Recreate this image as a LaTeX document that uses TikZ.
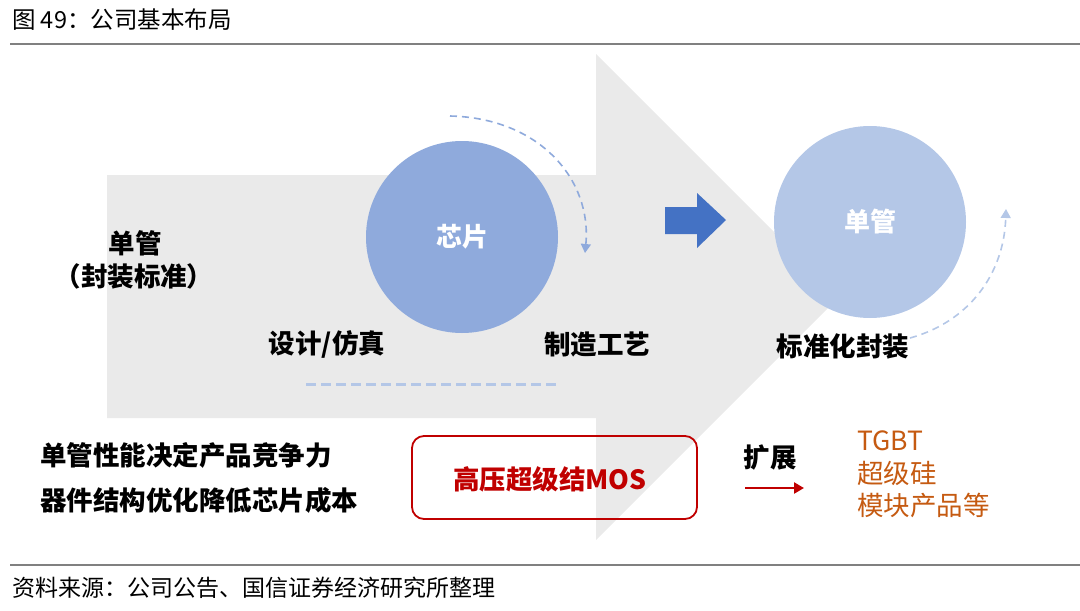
\documentclass[tikz,border=0pt]{standalone}
\usepackage{fontspec}
\setmainfont{Noto Sans CJK SC}
\usetikzlibrary{arrows.meta}
\definecolor{bggray}{HTML}{EAEAEA}
\definecolor{chipblue}{HTML}{8FAADC}
\definecolor{paleblue}{HTML}{B4C7E7}
\definecolor{deepblue}{HTML}{4472C4}
\definecolor{darkred}{HTML}{C00000}
\definecolor{rust}{HTML}{C55A11}
\definecolor{rulegray}{HTML}{808080}
\begin{document}
\begin{tikzpicture}[x=1pt,y=-1pt,
  every node/.style={inner sep=0pt},
  big/.style={font=\fontsize{26.5}{30}\selectfont\bfseries},
  plain/.style={font=\fontsize{23.5}{28}\selectfont},
  ring/.style={circle,minimum size=192pt,text=white,font=\fontsize{26}{30}\selectfont\bfseries},
  flowdash/.style={dashed,dash pattern=on 7pt off 5pt,line width=1.6pt,-{Triangle[length=9pt,width=10pt]}}]
\useasboundingbox (0,0) rectangle (1080,611);
% heading and footer
\node[plain,anchor=west] (title) at (12,20) {图 49：公司基本布局};
\draw[rulegray,line width=1.5pt] (10,44) -- (1080,44);
\draw[rulegray,line width=1.5pt] (10,565) -- (1080,565);
\node[plain,anchor=west,font=\fontsize{23}{28}\selectfont] (source) at (12,588) {资料来源：公司公告、国信证券经济研究所整理};
% big gray arrow
\fill[bggray] (107,175) -- (596,175) -- (596,54) -- (839,297) -- (596,540) -- (596,418) -- (107,418) -- cycle;
% circles
\node[ring,fill=chipblue] (chip) at (462,237) {芯片};
\node[ring,fill=paleblue] (single) at (870,222) {单管};
% blue block arrow
\fill[deepblue] (665,207) -- (697,207) -- (697,193) -- (726,220) -- (697,248) -- (697,234) -- (665,234) -- cycle;
% dashed curves
\coordinate (c1s) at (450,116);
\coordinate (c1e) at (585,253);
\draw[flowdash,chipblue] (c1s) .. controls (540,118) and (592,180) .. (c1e);
\coordinate (c2s) at (910,338);
\coordinate (c2e) at (1006,209);
\draw[flowdash,paleblue] (c2s) .. controls (968,322) and (1004,275) .. (c2e);
\coordinate (hl) at (306,384);
\coordinate (hr) at (560,384);
\draw[paleblue,line width=3pt,dash pattern=on 10pt off 5pt] (hl) -- (hr);
% labels on the arrow
\node[big] (pkg) at (135,243) {单管};
\node[big] (std) at (134,276) {（封装标准）};
\node[big] (design) at (327,344) {设计/仿真};
\node[big] (fab) at (597,344) {制造工艺};
\node[big] (assy) at (843,346) {标准化封装};
% bottom row
\node[big,anchor=west] (perf) at (40,455) {单管性能决定产品竞争力};
\node[big,anchor=west] (cost) at (40,500) {器件结构优化降低芯片成本};
\draw[darkred,line width=1.8pt,rounded corners=12pt] (412,436) rectangle (697,519);
\node[big,text=darkred] (mos) at (550,479) {高压超级结MOS};
\node[big] (ext) at (770,458) {扩展};
\coordinate (ea) at (745,488);
\coordinate (eb) at (804,488);
\draw[darkred,line width=2.5pt,-{Triangle[length=10pt,width=11pt]}] (ea) -- (eb);
\foreach \y/\name/\txt in {441/tgbt/TGBT, 473/sic/超级硅, 505/mod/模块产品等}{
  \node[font=\fontsize{26.5}{30}\selectfont,text=rust,anchor=west] (\name) at (857,\y) {\txt};
}
\end{tikzpicture}
\end{document}
